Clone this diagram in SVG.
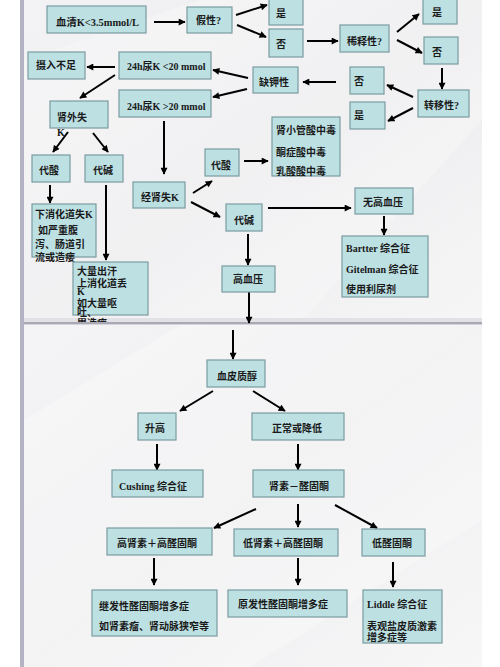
<svg xmlns="http://www.w3.org/2000/svg" width="500" height="667" viewBox="0 0 500 667">
<defs>
<linearGradient id="bgU" x1="0" y1="0" x2="1" y2="1">
<stop offset="0" stop-color="#f3f3f5"/>
<stop offset="0.5" stop-color="#ececee"/>
<stop offset="1" stop-color="#f6f6f7"/>
</linearGradient>
<linearGradient id="bgL" x1="0" y1="0" x2="1" y2="1">
<stop offset="0" stop-color="#f4f4f6"/>
<stop offset="0.5" stop-color="#eeeef0"/>
<stop offset="1" stop-color="#f7f7f8"/>
</linearGradient>
<marker id="ah" viewBox="0 0 10 10" refX="9" refY="5" markerWidth="8" markerHeight="7" markerUnits="userSpaceOnUse" orient="auto">
<path d="M0,0 L10,5 L0,10 z" fill="#000"/>
</marker>
<clipPath id="upClip"><rect x="0" y="0" width="500" height="322"/></clipPath>
</defs>
<style>
.box{fill:#bde0e3;stroke:#7a9ca1;stroke-width:1.2}
.t{font-family:"Liberation Serif","Noto Sans CJK SC",serif;font-size:10px;font-weight:bold;fill:#1a1a1a}
.c{stroke:#000;stroke-width:2;fill:none;marker-end:url(#ah)}
</style>
<rect x="0" y="0" width="500" height="667" fill="#ffffff"/>
<rect x="24" y="0" width="458" height="323" fill="url(#bgU)"/>
<rect x="24" y="325" width="458" height="342" fill="url(#bgL)"/>
<polygon points="24,60 200,0 482,0 482,120 300,323 24,323" fill="#ffffff" opacity="0.25"/>
<polygon points="24,420 180,325 482,325 482,520 250,667 24,667" fill="#ffffff" opacity="0.3"/>
<rect x="20" y="0" width="4" height="667" fill="#b3b3c3"/>
<g id="separator"><rect x="24" y="318" width="458" height="4" fill="#e2e2e6"/><rect x="24" y="322" width="458" height="2.5" fill="#a9a9b6"/></g>

<g id="connectors">
<line class="c" x1="154" y1="22" x2="185" y2="22"/>
<line class="c" x1="236" y1="15" x2="267" y2="5"/>
<line class="c" x1="237" y1="25" x2="266" y2="37"/>
<line class="c" x1="307" y1="41" x2="338" y2="41"/>
<line class="c" x1="397" y1="32" x2="419" y2="14"/>
<line class="c" x1="397" y1="40" x2="422" y2="53"/>
<line class="c" x1="442" y1="68" x2="442" y2="89"/>
<line class="c" x1="413" y1="97" x2="387" y2="85"/>
<line class="c" x1="413" y1="108" x2="388" y2="121"/>
<line class="c" x1="336" y1="82" x2="303" y2="82"/>
<line class="c" x1="248" y1="78" x2="213" y2="70"/>
<line class="c" x1="247" y1="89" x2="213" y2="97"/>
<line class="c" x1="115" y1="67" x2="87" y2="67"/>
<line class="c" x1="115" y1="75" x2="80" y2="98"/>
<line class="c" x1="68" y1="132" x2="53" y2="152"/>
<line class="c" x1="93" y1="133" x2="108" y2="152"/>
<line class="c" x1="50" y1="185" x2="50" y2="203"/>
<line class="c" x1="106" y1="185" x2="106" y2="260"/>
<line class="c" x1="164" y1="121" x2="164" y2="174"/>
<line class="c" x1="193" y1="193" x2="212" y2="181"/>
<line class="c" x1="191" y1="202" x2="220" y2="217"/>
<line class="c" x1="244" y1="161" x2="268" y2="161"/>
<line class="c" x1="268" y1="208" x2="351" y2="208"/>
<line class="c" x1="384" y1="216" x2="384" y2="235"/>
<line class="c" x1="248" y1="234" x2="248" y2="265"/>
<line class="c" x1="249" y1="292" x2="249" y2="323"/>
<line class="c" x1="233" y1="330" x2="233" y2="359"/>
<line class="c" x1="213" y1="391" x2="180" y2="411"/>
<line class="c" x1="253" y1="391" x2="285" y2="411"/>
<line class="c" x1="157" y1="444" x2="157" y2="470"/>
<line class="c" x1="298" y1="444" x2="298" y2="470"/>
<line class="c" x1="256" y1="509" x2="214" y2="528"/>
<line class="c" x1="298" y1="504" x2="298" y2="527"/>
<line class="c" x1="335" y1="505" x2="377" y2="528"/>
<line class="c" x1="154" y1="558" x2="154" y2="585"/>
<line class="c" x1="298" y1="558" x2="298" y2="585"/>
<line class="c" x1="393" y1="562" x2="393" y2="587"/>
</g>

<g id="n-serum"><rect class="box" x="47" y="6" width="99" height="27"/><text class="t" x="56" y="26" font-size="9" textLength="83" lengthAdjust="spacingAndGlyphs">血清K&lt;3.5mmol/L</text></g>
<g id="n-pseudo"><rect class="box" x="187" y="7" width="45" height="26"/><text class="t" x="196" y="24">假性?</text></g>
<g id="n-yes1"><rect class="box" x="269" y="-2" width="34" height="27"/><text class="t" x="276" y="17">是</text></g>
<g id="n-no1"><rect class="box" x="269" y="29" width="34" height="28"/><text class="t" x="276" y="48">否</text></g>
<g id="n-dilute"><rect class="box" x="340" y="25" width="49" height="27"/><text class="t" x="347" y="45">稀释性?</text></g>
<g id="n-yes2"><rect class="box" x="423" y="-2" width="34" height="26"/><text class="t" x="432" y="16">是</text></g>
<g id="n-no2"><rect class="box" x="424" y="37" width="34" height="27"/><text class="t" x="432" y="56">否</text></g>
<g id="n-intake"><rect class="box" x="28" y="52" width="57" height="27"/><text class="t" x="36" y="69">摄入不足</text></g>
<g id="n-ulow"><rect class="box" x="119" y="52" width="92" height="27"/><text class="t" x="127" y="70">24h尿K &lt;20 mmol</text></g>
<g id="n-deficit"><rect class="box" x="253" y="67" width="45" height="26"/><text class="t" x="259" y="86">缺钾性</text></g>
<g id="n-no3"><rect class="box" x="350" y="67" width="34" height="27"/><text class="t" x="354" y="85">否</text></g>
<g id="n-uhigh"><rect class="box" x="119" y="90" width="92" height="27"/><text class="t" x="127" y="110">24h尿K &gt;20 mmol</text></g>
<g id="n-shift"><rect class="box" x="418" y="90" width="51" height="27"/><text class="t" x="424" y="109">转移性?</text></g>
<g id="n-yes3"><rect class="box" x="350" y="102" width="35" height="27"/><text class="t" x="354" y="119">是</text></g>
<g id="n-extrarenal"><rect class="box" x="50" y="101" width="58" height="27"/><text class="t" x="57" y="121">肾外失</text><text class="t" x="57" y="136">K</text></g>
<g id="n-acid1"><rect class="box" x="32" y="155" width="38" height="27"/><text class="t" x="39" y="174">代酸</text></g>
<g id="n-alk1"><rect class="box" x="85" y="155" width="38" height="27"/><text class="t" x="93" y="174">代碱</text></g>
<g id="n-rta"><rect class="box" x="272" y="117" width="68" height="59"/><text class="t" x="276" y="134">肾小管酸中毒</text><text class="t" x="276" y="156">酮症酸中毒</text><text class="t" x="276" y="175">乳酸酸中毒</text></g>
<g id="n-acid2"><rect class="box" x="205" y="149" width="34" height="27"/><text class="t" x="211" y="169">代酸</text></g>
<g id="n-renal"><rect class="box" x="133" y="182" width="52" height="26"/><text class="t" x="141" y="201">经肾失K</text></g>
<g id="n-alk2"><rect class="box" x="226" y="204" width="36" height="27"/><text class="t" x="234" y="224">代碱</text></g>
<g id="n-nohtn"><rect class="box" x="355" y="188" width="58" height="26"/><text class="t" x="363" y="206">无高血压</text></g>
<g id="n-bartter"><rect class="box" x="342" y="236" width="86" height="61"/><text class="t" x="346" y="252">Bartter 综合征</text><text class="t" x="346" y="273">Gitelman 综合征</text><text class="t" x="346" y="293">使用利尿剂</text></g>
<g id="n-htn"><rect class="box" x="222" y="266" width="53" height="26"/><text class="t" x="233" y="283">高血压</text></g>
<g id="n-lowergi"><rect class="box" x="32" y="204" width="64" height="53"/><text class="t" x="35" y="218">下消化道失K</text><text class="t" x="38" y="234">如严重腹</text><text class="t" x="35" y="248">泻、肠道引</text><text class="t" x="35" y="261">流或造瘘</text></g>
<g id="n-sweat" clip-path="url(#upClip)"><rect class="box" x="73" y="262" width="75" height="53"/><text class="t" x="77" y="275">大量出汗</text><text class="t" x="77" y="287">上消化道丢</text><text class="t" x="77" y="295">K</text><text class="t" x="77" y="307">如大量呕</text><text class="t" x="77" y="316">吐、</text><text class="t" x="77" y="327">胃造瘘</text></g>

<g id="n-cortisol"><rect class="box" x="207" y="360" width="58" height="27"/><text class="t" x="217" y="380">血皮质醇</text></g>
<g id="n-raised"><rect class="box" x="138" y="413" width="38" height="27"/><text class="t" x="145" y="432">升高</text></g>
<g id="n-normal"><rect class="box" x="252" y="413" width="92" height="27"/><text class="t" x="272" y="432">正常或降低</text></g>
<g id="n-cushing"><rect class="box" x="112" y="470" width="91" height="27"/><text class="t" x="119" y="490">Cushing 综合征</text></g>
<g id="n-raas"><rect class="box" x="253" y="470" width="91" height="27"/><text class="t" x="269" y="490">肾素－醛固酮</text></g>
<g id="n-hrha"><rect class="box" x="107" y="528" width="105" height="27"/><text class="t" x="117" y="547">高肾素＋高醛固酮</text></g>
<g id="n-lrha"><rect class="box" x="234" y="529" width="104" height="27"/><text class="t" x="243" y="547">低肾素＋高醛固酮</text></g>
<g id="n-la"><rect class="box" x="362" y="529" width="63" height="27"/><text class="t" x="372" y="547">低醛固酮</text></g>
<g id="n-secondary"><rect class="box" x="92" y="590" width="125" height="46"/><text class="t" x="99" y="610">继发性醛固酮增多症</text><text class="t" x="99" y="630">如肾素瘤、肾动脉狭窄等</text></g>
<g id="n-primary"><rect class="box" x="228" y="590" width="119" height="27"/><text class="t" x="238" y="608">原发性醛固酮增多症</text></g>
<g id="n-liddle"><rect class="box" x="363" y="590" width="79" height="53"/><text class="t" x="367" y="608">Liddle 综合征</text><text class="t" x="367" y="630">表观盐皮质激素</text><text class="t" x="367" y="641">增多症等</text></g>
</svg>
